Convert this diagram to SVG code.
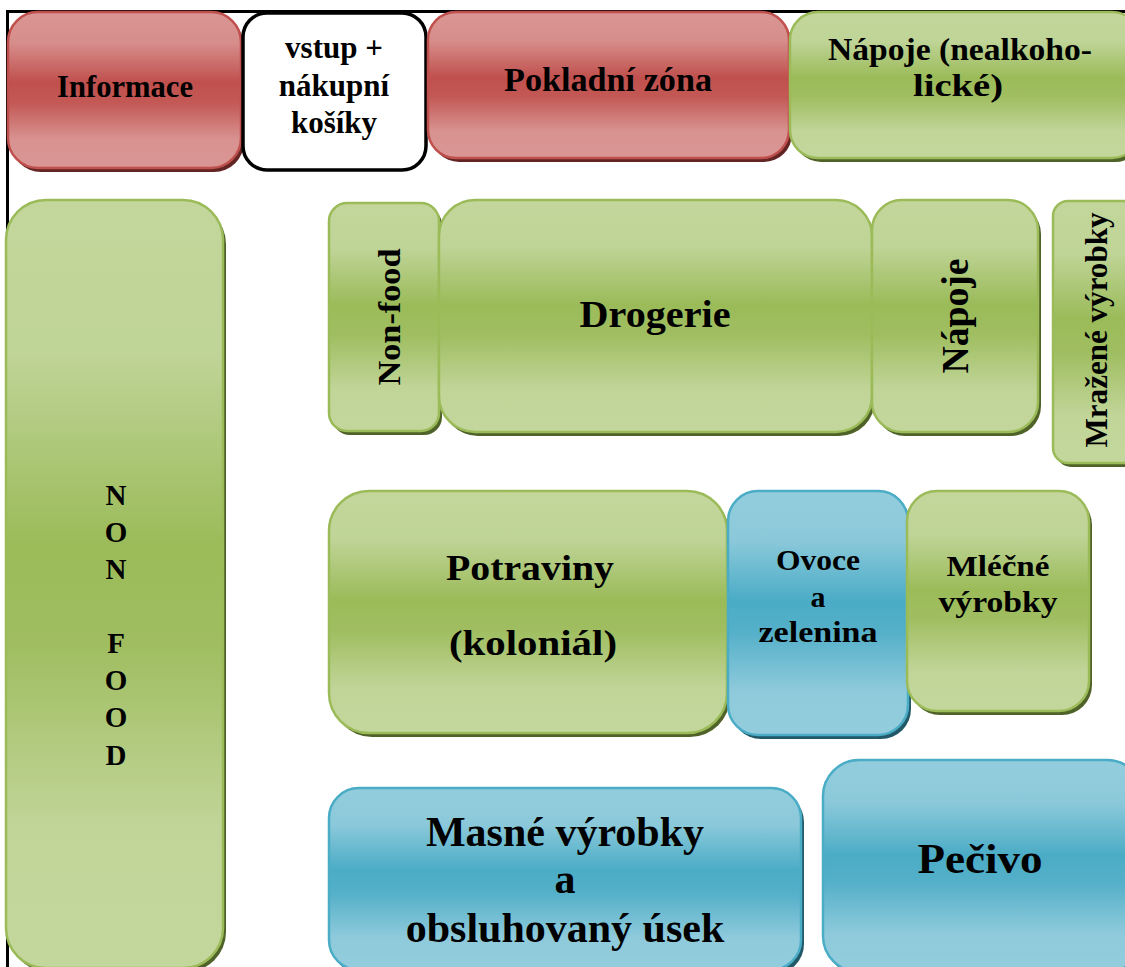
<svg xmlns="http://www.w3.org/2000/svg" width="1125" height="967" viewBox="0 0 1125 967">
  <defs>
    <linearGradient id="gradGreen" x1="0" y1="0" x2="0" y2="1">
      <stop offset="0" stop-color="#c3d69b"/>
      <stop offset="0.2" stop-color="#bfd497"/>
      <stop offset="0.45" stop-color="#9bbb59"/>
      <stop offset="0.58" stop-color="#a0be61"/>
      <stop offset="0.82" stop-color="#c1d599"/>
      <stop offset="1" stop-color="#c3d69b"/>
    </linearGradient>
    <linearGradient id="gradRed" x1="0" y1="0" x2="0" y2="1">
      <stop offset="0" stop-color="#da9694"/>
      <stop offset="0.2" stop-color="#d68d8b"/>
      <stop offset="0.45" stop-color="#c0504d"/>
      <stop offset="0.58" stop-color="#c35855"/>
      <stop offset="0.82" stop-color="#d89391"/>
      <stop offset="1" stop-color="#da9694"/>
    </linearGradient>
    <linearGradient id="gradBlue" x1="0" y1="0" x2="0" y2="1">
      <stop offset="0" stop-color="#93cddd"/>
      <stop offset="0.2" stop-color="#8bc9da"/>
      <stop offset="0.45" stop-color="#4bacc6"/>
      <stop offset="0.58" stop-color="#55b0c9"/>
      <stop offset="0.82" stop-color="#8ecadb"/>
      <stop offset="1" stop-color="#93cddd"/>
    </linearGradient>
  </defs>
  <style>
    .green { fill: url(#gradGreen); stroke: #9bbb59; stroke-width: 2.5; }
    .red { fill: url(#gradRed); stroke: #c0504d; stroke-width: 2.5; }
    .blue { fill: url(#gradBlue); stroke: #4bacc6; stroke-width: 2.5; }
    .white { fill: #ffffff; stroke: #000000; stroke-width: 3.5; }
    .sh-green { fill: #4f6228; }
    .sh-red { fill: #632523; }
    .sh-blue { fill: #215968; }
    .frame { stroke: #000000; stroke-width: 3; fill: none; }
    text { font-family: "Liberation Serif", "Times New Roman", serif; font-weight: bold; fill: #000000; text-anchor: middle; }
  </style>

  <rect width="1125" height="967" fill="#ffffff"/>

  <!-- outer wall of the floor plan -->
  <g id="frame">
    <path class="frame" d="M7.5,967 V11.5 H1125"/>
  </g>

  <!-- no connectors in this plan -->
  <g id="connectors"/>

  <g id="informace">
    <rect class="sh-red" x="11" y="16" width="233" height="156" rx="30"/>
    <rect class="red" x="8" y="12" width="233" height="156" rx="30"/>
    <text x="125" y="97" font-size="31" textLength="136" lengthAdjust="spacingAndGlyphs">Informace</text>
  </g>

  <g id="vstup">
    <rect class="white" x="243" y="13" width="183" height="157" rx="24"/>
    <text x="334" y="58" font-size="31">vstup +</text>
    <text x="334" y="96" font-size="31">nákupní</text>
    <text x="334" y="133" font-size="31">košíky</text>
  </g>

  <g id="pokladni-zona">
    <rect class="sh-red" x="431" y="16" width="361" height="146" rx="28"/>
    <rect class="red" x="428" y="12" width="361" height="146" rx="28"/>
    <text x="608" y="91" font-size="34" textLength="208" lengthAdjust="spacingAndGlyphs">Pokladní zóna</text>
  </g>

  <g id="napoje-nealko">
    <rect class="sh-green" x="793" y="16" width="350" height="146" rx="28"/>
    <rect class="green" x="790" y="12" width="350" height="146" rx="28"/>
    <text x="960" y="60" font-size="32" textLength="264" lengthAdjust="spacingAndGlyphs">Nápoje (nealkoho-</text>
    <text x="958" y="96" font-size="32" textLength="90" lengthAdjust="spacingAndGlyphs">lické)</text>
  </g>

  <g id="non-food-wall">
    <rect class="sh-green" x="9" y="204" width="217" height="768" rx="40"/>
    <rect class="green" x="6" y="200" width="217" height="768" rx="40"/>
    <text x="116" y="505" font-size="29">N</text>
    <text x="116" y="542" font-size="29">O</text>
    <text x="116" y="579" font-size="29">N</text>
    <text x="116" y="653" font-size="29">F</text>
    <text x="116" y="690" font-size="29">O</text>
    <text x="116" y="727" font-size="29">O</text>
    <text x="116" y="765" font-size="29">D</text>
  </g>

  <g id="non-food">
    <rect class="sh-green" x="332" y="207" width="110" height="228" rx="18"/>
    <rect class="green" x="329" y="203" width="110" height="228" rx="18"/>
    <text transform="translate(400,317) rotate(-90)" font-size="32" textLength="137" lengthAdjust="spacingAndGlyphs">Non-food</text>
  </g>

  <g id="drogerie">
    <rect class="sh-green" x="442" y="204" width="433" height="232" rx="36"/>
    <rect class="green" x="439" y="200" width="433" height="232" rx="36"/>
    <text x="655" y="327" font-size="38" textLength="151" lengthAdjust="spacingAndGlyphs">Drogerie</text>
  </g>

  <g id="napoje">
    <rect class="sh-green" x="875" y="204" width="166" height="232" rx="30"/>
    <rect class="green" x="872" y="200" width="166" height="232" rx="30"/>
    <text transform="translate(968,316) rotate(-90)" font-size="38" textLength="115" lengthAdjust="spacingAndGlyphs">Nápoje</text>
  </g>

  <g id="mrazene">
    <rect class="sh-green" x="1056" y="205" width="90" height="262" rx="15"/>
    <rect class="green" x="1053" y="201" width="90" height="262" rx="15"/>
    <text transform="translate(1107,330) rotate(-90)" font-size="31" textLength="235" lengthAdjust="spacingAndGlyphs">Mražené výrobky</text>
  </g>

  <g id="potraviny">
    <rect class="sh-green" x="332" y="495" width="398" height="242" rx="40"/>
    <rect class="green" x="329" y="491" width="398" height="242" rx="40"/>
    <text x="530" y="580" font-size="35" textLength="168" lengthAdjust="spacingAndGlyphs">Potraviny</text>
    <text x="533" y="655" font-size="35" textLength="168" lengthAdjust="spacingAndGlyphs">(koloniál)</text>
  </g>

  <g id="ovoce">
    <rect class="sh-blue" x="731" y="495" width="180" height="244" rx="30"/>
    <rect class="blue" x="728" y="491" width="180" height="244" rx="30"/>
    <text x="818" y="570" font-size="30" textLength="84" lengthAdjust="spacingAndGlyphs">Ovoce</text>
    <text x="818" y="607" font-size="30">a</text>
    <text x="818" y="642" font-size="30" textLength="119" lengthAdjust="spacingAndGlyphs">zelenina</text>
  </g>

  <g id="mlecne">
    <rect class="sh-green" x="910" y="495" width="182" height="220" rx="30"/>
    <rect class="green" x="907" y="491" width="182" height="220" rx="30"/>
    <text x="998" y="576" font-size="30" textLength="103" lengthAdjust="spacingAndGlyphs">Mléčné</text>
    <text x="998" y="612" font-size="30" textLength="119" lengthAdjust="spacingAndGlyphs">výrobky</text>
  </g>

  <g id="masne">
    <rect class="sh-blue" x="332" y="792" width="472" height="182" rx="30"/>
    <rect class="blue" x="329" y="788" width="472" height="182" rx="30"/>
    <text x="565" y="846" font-size="42">Masné výrobky</text>
    <text x="565" y="893" font-size="42">a</text>
    <text x="565" y="942" font-size="42">obsluhovaný úsek</text>
  </g>

  <g id="pecivo">
    <rect class="sh-blue" x="826" y="764" width="320" height="212" rx="36"/>
    <rect class="blue" x="823" y="760" width="320" height="212" rx="36"/>
    <text x="980" y="873" font-size="42" textLength="125" lengthAdjust="spacingAndGlyphs">Pečivo</text>
  </g>
</svg>
